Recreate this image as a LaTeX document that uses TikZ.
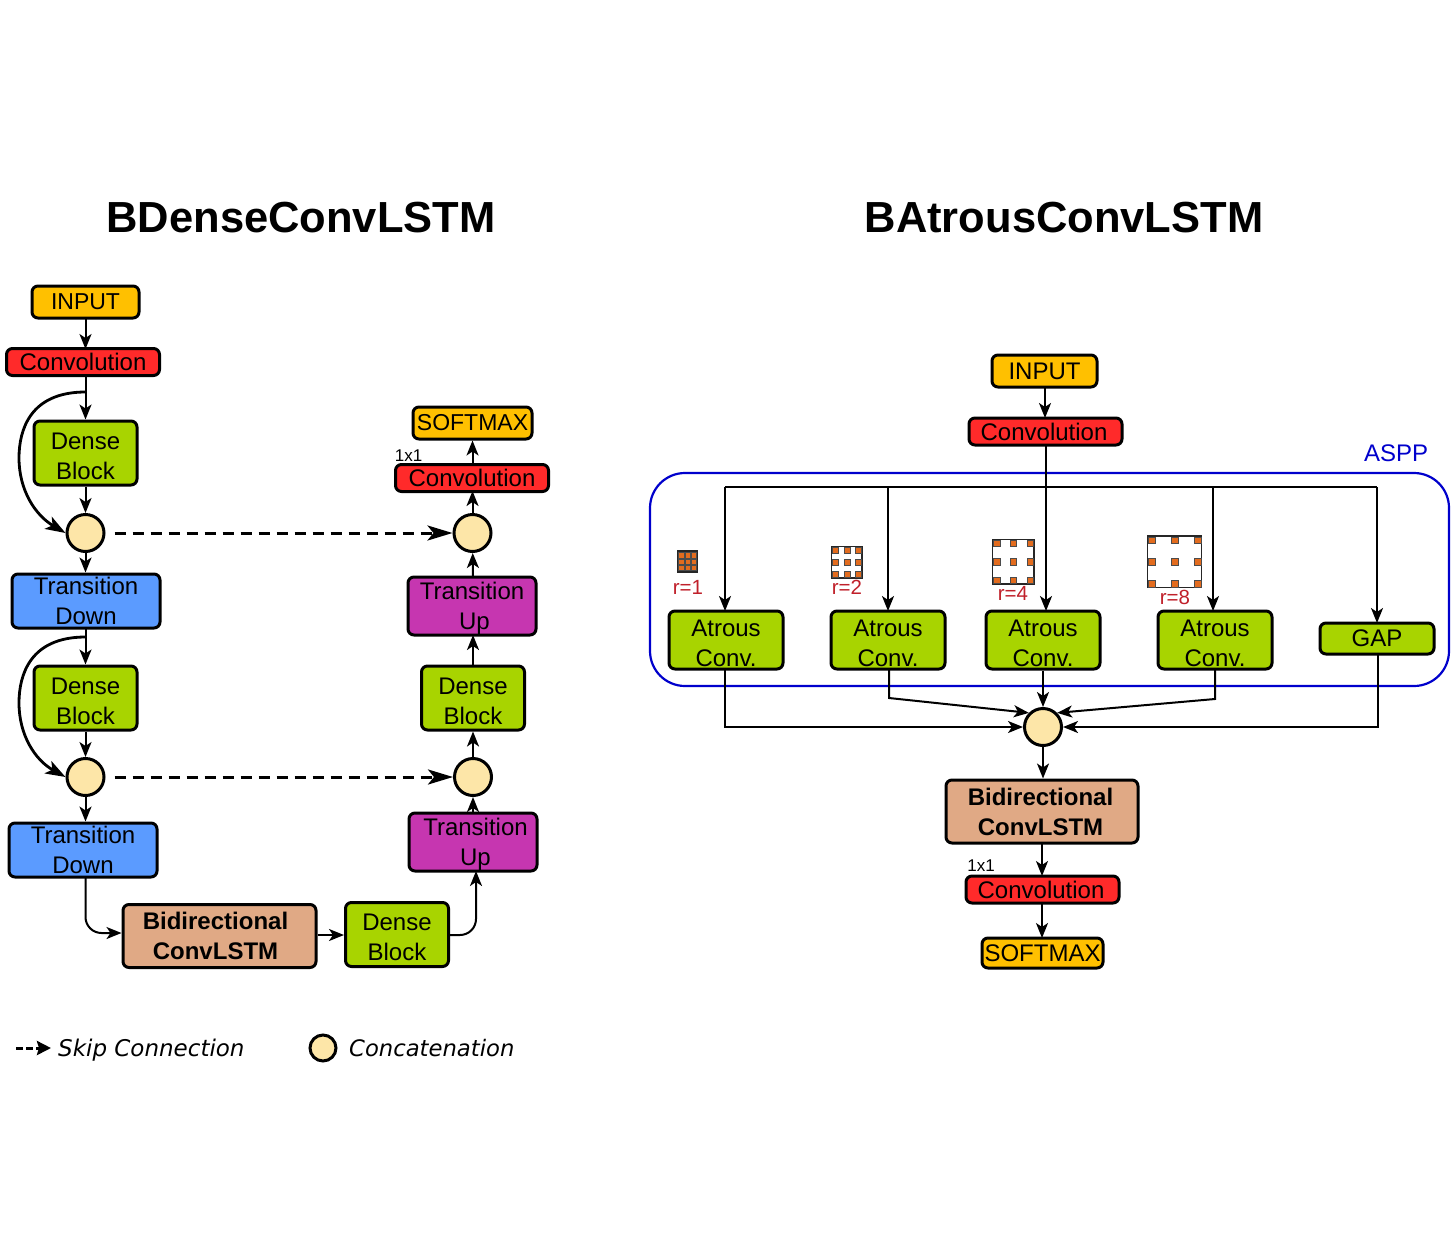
\documentclass[tikz,border=0pt]{standalone}
\usepackage{fontspec}
\setmainfont{Liberation Sans}
\newfontfamily\legendfont[ItalicFont={DejaVu Sans Oblique}]{DejaVu Sans}
\usetikzlibrary{calc,positioning,arrows.meta}

\definecolor{inputyellow}{HTML}{FFC000}
\definecolor{convred}{HTML}{FF2A2A}
\definecolor{blockgreen}{HTML}{A8D400}
\definecolor{downblue}{HTML}{5B9BFF}
\definecolor{upmagenta}{HTML}{C636B0}
\definecolor{lstmtan}{HTML}{E0A985}
\definecolor{catcream}{HTML}{FDE6A8}
\definecolor{cellorange}{HTML}{E36C1E}
\definecolor{ratered}{HTML}{C0202A}

\begin{document}
\begin{tikzpicture}
        [x=1pt,y=-1pt,
        >={Stealth[length=15pt,width=12pt,inset=4pt]},
        block/.style={draw, line width=3pt, rounded corners=6pt, inner sep=0pt,
          align=center, font=\fontsize{24}{30}\selectfont},
        twoline/.style={block, text depth=0pt},
        ioblock/.style={block, fill=inputyellow},
        convblock/.style={block, fill=convred, minimum width=153pt, minimum height=27pt},
        denseblock/.style={twoline, fill=blockgreen, minimum width=103pt, minimum height=64pt, text height=52pt},
        downblock/.style={twoline, fill=downblue, minimum width=148pt, minimum height=54pt},
        upblock/.style={twoline, fill=upmagenta, minimum width=128pt, minimum height=58pt},
        lstmblock/.style={twoline, fill=lstmtan, minimum height=63pt, font=\fontsize{24}{30}\selectfont\bfseries},
        atrousblock/.style={twoline, fill=blockgreen, minimum width=114pt, minimum height=58pt, text height=52pt},
        cat/.style={draw, circle, line width=3pt, fill=catcream, minimum size=37pt, inner sep=0pt},
        flow/.style={->, line width=2pt},
        bypass/.style={line width=2.8pt, -{Stealth[length=20pt,width=14pt,inset=5pt]}},
        skip/.style={line width=3pt, dash pattern=on 11pt off 7pt, -{Stealth[length=25pt,width=15pt,inset=6pt]}},
        title/.style={font=\fontsize{43.5}{50}\selectfont\bfseries},
        small/.style={font=\fontsize{17}{20}\selectfont},
        rate/.style={font=\fontsize{20.5}{22}\selectfont, text=ratered},
        legend/.style={font=\legendfont\itshape\fontsize{23}{28}\selectfont, anchor=base west, inner sep=0pt}]
        \useasboundingbox[fill=white] (0,0) rectangle (1455,1247);

        \node[title] (ttldense) at (301,217.5) {BDenseConvLSTM};
        \node[title] (ttlatrous) at (1064,217.5) {BAtrousConvLSTM};

        % left network
        \node[ioblock, minimum width=107pt, minimum height=32pt, font=\fontsize{23}{30}\selectfont] (lin) at (85.5,302) {INPUT};
        \node[convblock] (lconv) at (83,362) {Convolution};
        \node[denseblock] (ld1) at (85.5,453) {Dense\\Block};
        \node[cat] (lc1) at (85.5,533) {};
        \node[downblock] (ltd1) at (86,601) {Transition\\Down};
        \node[denseblock] (ld2) at (85.5,698) {Dense\\Block};
        \node[cat] (lc2) at (85.5,777) {};
        \node[downblock] (ltd2) at (83,850) {Transition\\Down};
        \node[lstmblock, minimum width=193pt] (lbi) at (219.5,936) {Bidirectional\hspace*{8pt}\\ConvLSTM\hspace*{8pt}};
        \node[denseblock] (ld3) at (397,934.5) {Dense\\Block};
        \node[upblock] (ltu2) at (473,842) {\hspace*{5pt}Transition\\\hspace*{5pt}Up};
        \node[cat] (lc3) at (473,777) {};
        \node[denseblock] (ld4) at (473,698) {Dense\\Block};
        \node[upblock] (ltu1) at (472,606) {Transition\\\hspace*{5pt}Up};
        \node[cat] (lc4) at (472.5,533) {};
        \node[convblock] (lconv2) at (472,478) {Convolution};
        \node[ioblock, minimum width=119pt, minimum height=32pt, font=\fontsize{23}{30}\selectfont] (lout) at (472.5,423) {SOFTMAX};
        \node[small] (lone) at (408.5,456) {1x1};

        \draw[flow] (85.5,318) -- (85.5,349);
        \draw[flow] (85.5,376) -- (ld1.north);
        \draw[flow] (ld1) -- (lc1);
        \draw[flow] (lc1) -- (ltd1.north -| lc1);
        \draw[flow] (85.5,628) -- (ld2.north);
        \draw[flow] (ld2) -- (lc2);
        \draw[flow] (lc2) -- (lc2 |- ltd2.north);
        \draw[flow, rounded corners=16pt] (85.5,877) -- (85.5,933) -- (lbi.west |- 0,933);
        \draw[flow] (lbi.east |- 0,935) -- (ld3.west |- 0,935);
        \draw[flow, rounded corners=16pt] (ld3.east |- 0,935) -- (476,935) -- (476,871);
        \draw[flow] (473,813) -- (lc3);
        \draw[flow] (lc3) -- (ld4);
        \draw[flow] (ld4) -- (473,635);
        \draw[flow] (473,577) -- (lc4);
        \draw[flow] (lc4) -- (472.5,491);
        \draw[flow] (472.5,465) -- (lout);

        % skip paths inside the encoder
        \coordinate (lb1) at (85.5,392);
        \coordinate (lb2) at (85.5,637);
        \draw[bypass] (lb1) .. controls (30,392) and (19,430) .. (19,458)
          .. controls (19,490) and (35,515) .. (lc1.west);
        \draw[bypass] (lb2) .. controls (30,637) and (19,675) .. (19,703)
          .. controls (19,735) and (35,760) .. (lc2.west);
        \draw[skip, shorten <=9pt] (lc1.east) -- (lc4.west);
        \draw[skip, shorten <=9pt] (lc2.east) -- (lc3.west);

        % legend
        \coordinate (lgs) at (16,1048);
        \coordinate (lge) at (51,1048);
        \draw[line width=3pt, dash pattern=on 7pt off 3pt, -{Stealth[length=14pt,width=14pt,inset=2pt]}] (lgs) -- (lge);
        \node[legend] (lgskip) at (58,1056) {Skip Connection};
        \node[cat, minimum size=26pt] (lgcat) at (323,1048) {};
        \node[legend, font=\legendfont\itshape\fontsize{22.7}{28}\selectfont] (lgconc) at (349,1056) {Concatenation};

        % right network
        \draw[blue!80!black, line width=2.2pt, rounded corners=35pt] (650,473) rectangle (1449,686);
        \node[font=\fontsize{24}{28}\selectfont, text=blue!80!black] (aspp) at (1396,453) {ASPP};
        \node[ioblock, minimum width=105pt, minimum height=32pt] (rin) at (1044.5,371) {INPUT};
        \node[convblock] (rconv) at (1045.5,431.5) {Convolution\hspace*{3pt}};
        \node[atrousblock] (ra1) at (726,640) {Atrous\\Conv.};
        \node[atrousblock] (ra2) at (888,640) {Atrous\\Conv.};
        \node[atrousblock] (ra3) at (1043,640) {Atrous\\Conv.};
        \node[atrousblock] (ra4) at (1215,640) {Atrous\\Conv.};
        \node[block, fill=blockgreen, minimum width=114pt, minimum height=31pt] (rgap) at (1377,638.5) {GAP};
        \node[cat] (rc) at (1043,727) {};
        \node[lstmblock, minimum width=192pt] (rbi) at (1042,811.5) {Bidirectional\hspace*{3pt}\\ConvLSTM\hspace*{3pt}};
        \node[convblock] (rconv2) at (1042.5,889.5) {Convolution\hspace*{3pt}};
        \node[ioblock, minimum width=121pt, minimum height=30pt] (rout) at (1042.5,953) {SOFTMAX};
        \node[small] (rone) at (981,866) {1x1};

        \draw[flow] (1045,387) -- (1045,418);
        \draw[flow] (1046,445) -- (1046,611);
        \draw[line width=2pt] (725,487) -- (1377,487);
        \draw[flow] (725,487) -- (725,611);
        \draw[flow] (888,487) -- (888,611);
        \draw[flow] (1213,487) -- (1213,611);
        \draw[flow] (1377,487) -- (1377,623);
        \draw[flow] (725,669) -- (725,727) -- (rc.west);
        \draw[flow] (889,669) -- (889,698) -- (rc.north west);
        \draw[flow] (ra3.south -| rc) -- (rc);
        \draw[flow] (1215,669) -- (1215,699) -- (rc.north east);
        \draw[flow] (1378,654) -- (1378,727) -- (rc.east);
        \draw[flow] (rc) -- (rbi.north -| rc);
        \draw[flow] (1042,843) -- (1042,876);
        \draw[flow] (1042,903) -- (1042,938);

        % atrous sampling grids
        \foreach \cx/\cy/\hw/\hh/\dx/\dy/\sz/\bg in {687.5/561.5/10.2/10.5/6.3/6.3/5.3/black!75,
            846.7/562.3/15.2/15.8/11.3/12/6/white,
            1013.3/561.7/20.8/22.3/16.7/18.3/6.4/white,
            1174.7/561.8/27/25.8/23/21.7/6.4/white} {
          \draw[black!85, line width=1.3pt, fill=\bg] (\cx-\hw,\cy-\hh) rectangle (\cx+\hw,\cy+\hh);
          \foreach \i in {-1,0,1} \foreach \j in {-1,0,1}
            \fill[cellorange, draw=black!70, line width=.4pt]
              (\cx+\i*\dx-\sz/2,\cy+\j*\dy-\sz/2) rectangle (\cx+\i*\dx+\sz/2,\cy+\j*\dy+\sz/2);
        }
        \node[rate] (rr1) at (688,587.5) {r=1};
        \node[rate] (rr2) at (847,587.5) {r=2};
        \node[rate] (rr4) at (1013,593) {r=4};
        \node[rate] (rr8) at (1175,597) {r=8};
      \end{tikzpicture}
\end{document}
